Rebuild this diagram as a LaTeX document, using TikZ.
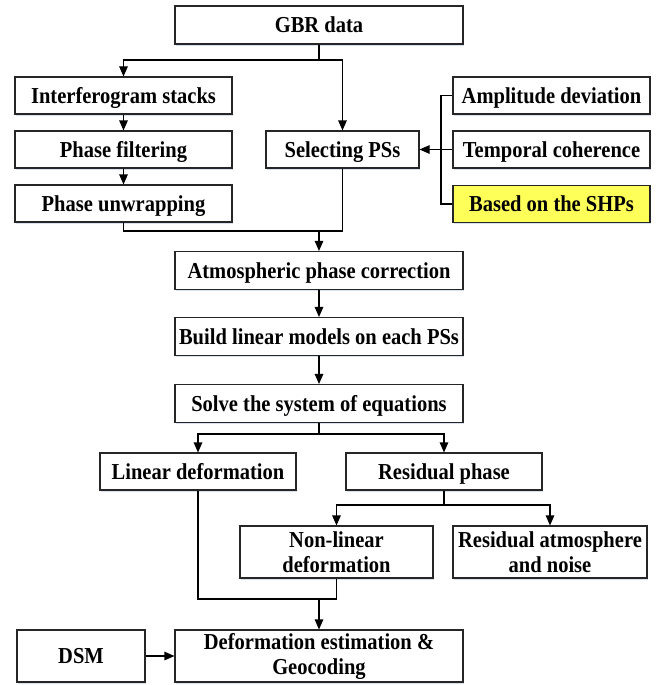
\documentclass[tikz,border=0pt]{standalone}
\usepackage{fontspec}
\setmainfont[FakeStretch=0.9]{Liberation Serif}
\usetikzlibrary{arrows.meta,calc,shadows}
\definecolor{shpyellow}{RGB}{255,255,90}
\definecolor{shadowblue}{RGB}{215,225,240}
\tikzset{
  box/.style={draw=black!85, line width=1.1pt, fill=white, align=center, inner sep=2pt,
    font=\fontsize{22.8}{25}\selectfont\bfseries,
    drop shadow={shadow xshift=1.2pt, shadow yshift=-1.8pt, fill=shadowblue, opacity=1}},
  oneline/.style={text height=15pt, text depth=0pt},
  conn/.style={line width=1.1pt, draw=black},
  arr/.style={conn, -{Triangle[length=10pt,width=8.5pt]}}
}
\begin{document}
\begin{tikzpicture}[x=1pt,y=-1pt]
\useasboundingbox (0,0) rectangle (669,685);
\node[box, oneline, minimum width=288pt, minimum height=38pt] (gbr) at (319,25) {GBR data};
\node[box, oneline, minimum width=217pt, minimum height=37pt] (inter) at (123.5,95.5) {Interferogram stacks};
\node[box, oneline, minimum width=217pt, minimum height=37pt] (filt) at (123.5,149.5) {Phase filtering};
\node[box, oneline, minimum width=217pt, minimum height=37pt] (unwrap) at (123.5,203.5) {Phase unwrapping};
\node[box, oneline, minimum width=153pt, minimum height=37pt] (sel) at (342.5,149.5) {Selecting PSs};
\node[box, oneline, minimum width=197pt, minimum height=37pt] (amp) at (551.5,95.5) {Amplitude deviation};
\node[box, oneline, minimum width=197pt, minimum height=37pt] (temp) at (551.5,149.5) {Temporal coherence};
\node[box, oneline, fill=shpyellow, minimum width=197pt, minimum height=37pt] (shp) at (551.5,204) {Based on the SHPs};
\node[box, oneline, minimum width=288pt, minimum height=38pt] (atm) at (319,270.5) {Atmospheric phase correction};
\node[box, oneline, minimum width=288pt, minimum height=38pt] (build) at (319,336.5) {Build linear models on each PSs};
\node[box, oneline, minimum width=288pt, minimum height=38pt] (solve) at (319,403.5) {Solve the system of equations};
\node[box, oneline, minimum width=196pt, minimum height=37pt] (lin) at (198,471.5) {Linear deformation};
\node[box, oneline, minimum width=196pt, minimum height=37pt] (res) at (444,471.5) {Residual phase};
\node[box, minimum width=193pt, minimum height=52pt] (nonlin) at (336.5,552) {Non-linear\\deformation};
\node[box, minimum width=194pt, minimum height=52pt] (resatm) at (550,552) {Residual atmosphere\\and noise};
\node[box, oneline, minimum width=128pt, minimum height=52pt] (dsm) at (81,656) {DSM};
\node[box, minimum width=288pt, minimum height=52pt] (def) at (319,656) {Deformation estimation \&\\Geocoding};
% connectors
\coordinate (b1) at (319,60);
\draw[conn] (gbr.south) -- (b1);
\draw[arr] (b1) -| (inter.north);
\draw[arr] (b1) -| (sel.north);
\draw[arr] (inter) -- (filt);
\draw[arr] (filt) -- (unwrap);
\coordinate (j1) at (319,231);
\draw[conn] (unwrap.south) |- (j1);
\draw[conn] (sel.south) |- (j1);
\draw[arr] (j1) -- (atm.north);
\coordinate (br) at (441,149.5);
\draw[conn] (amp.west) -| (br);
\draw[conn] (shp.west) -| (br);
\draw[arr] (temp.west) -- (sel.east);
\draw[arr] (atm) -- (build);
\draw[arr] (build) -- (solve);
\coordinate (b2) at (319,434);
\draw[conn] (solve.south) -- (b2);
\draw[arr] (b2) -| (lin.north);
\draw[arr] (b2) -| (res.north);
\coordinate (b3) at (444,505);
\draw[conn] (res.south) -- (b3);
\draw[arr] (b3) -| (nonlin.north);
\draw[arr] (b3) -| (resatm.north);
\coordinate (j2) at (319,599);
\draw[conn] (lin.south) |- (j2);
\draw[conn] (nonlin.south) |- (j2);
\draw[arr] (j2) -- (def.north);
\draw[arr] (dsm) -- (def);
\end{tikzpicture}
\end{document}
